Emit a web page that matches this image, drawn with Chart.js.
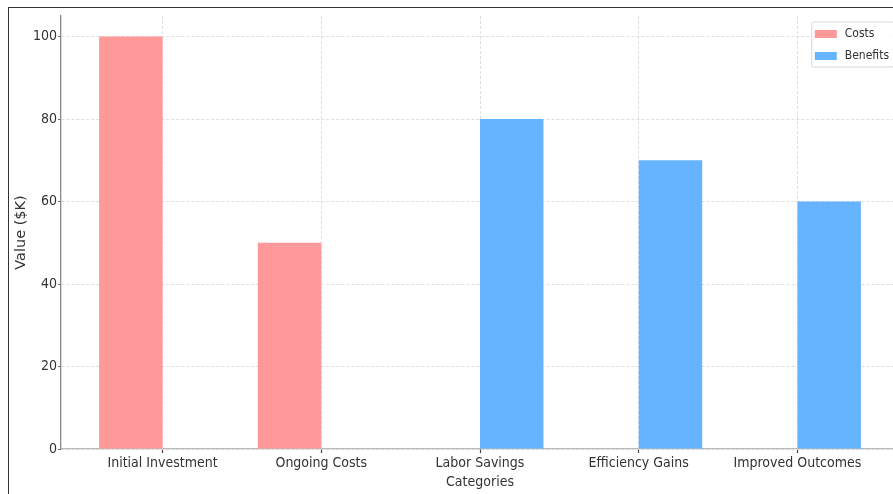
<!DOCTYPE html>
<html>
<head>
<meta charset="utf-8">
<script src="https://cdn.jsdelivr.net/npm/chart.js@4/dist/chart.umd.min.js"></script>
<style>
  html, body { margin: 0; padding: 0; background: #fff; overflow: hidden; }
  #wrap { position: relative; width: 893px; height: 494px; overflow: hidden; }
  #box { position: absolute; left: 0; top: 0; width: 910px; height: 494px; }
  #frame { position: absolute; left: 8px; top: 7px; width: 900px; height: 500px;
           border-left: 1.5px solid #333; border-top: 1.5px solid #333; pointer-events: none; }
</style>
</head>
<body>
<div id="wrap">
  <div id="box"><canvas id="c"></canvas></div>
  <div id="frame"></div>
</div>
<script>
// Cost / benefit breakdown, values in $K
const categories = ['Initial Investment', 'Ongoing Costs', 'Labor Savings', 'Efficiency Gains', 'Improved Outcomes'];
const costs = [100, 50, 0, 0, 0];
const benefits = [0, 0, 80, 70, 60];
const yTicks = [0, 20, 40, 60, 80, 100];

Chart.defaults.font.family = '"DejaVu Sans Condensed", "DejaVu Sans", sans-serif';
Chart.defaults.color = '#333';

// Boxed legend drawn in the upper right corner of the plot
const boxLegend = {
  id: 'boxLegend',
  afterDatasetsDraw(chart) {
    const ctx = chart.ctx, area = chart.chartArea;
    const sets = chart.data.datasets;
    ctx.save();
    ctx.font = '12px "DejaVu Sans Condensed", "DejaVu Sans", sans-serif';
    const tw = Math.max(...sets.map(d => ctx.measureText(d.label).width));
    const w = 3 + 22 + 8 + tw + 5, h = 45;
    const x = area.right - 5 - w, y = area.top + 6;
    ctx.beginPath();
    ctx.roundRect(x, y, w, h, 2);
    ctx.fillStyle = 'rgba(255,255,255,0.85)';
    ctx.fill();
    ctx.strokeStyle = '#d6d6d6';
    ctx.lineWidth = 1;
    ctx.stroke();
    sets.forEach((d, i) => {
      const cy = y + 12 + i * 22;
      ctx.fillStyle = d.backgroundColor;
      ctx.fillRect(x + 3, cy - 4, 22, 8);
      ctx.fillStyle = '#333';
      ctx.textBaseline = 'middle';
      ctx.textAlign = 'left';
      ctx.fillText(d.label, x + 33, cy);
    });
    ctx.restore();
  }
};

const toPoints = vals => vals.map((v, i) => ({ x: i, y: v }));

new Chart(document.getElementById('c'), {
  type: 'bar',
  data: {
    datasets: [
      { label: 'Costs', data: toPoints(costs), backgroundColor: '#FF9999',
        barPercentage: 1, categoryPercentage: 0.8 },
      { label: 'Benefits', data: toPoints(benefits), backgroundColor: '#66B3FF',
        barPercentage: 1, categoryPercentage: 0.8 }
    ]
  },
  options: {
    responsive: true,
    maintainAspectRatio: false,
    animation: false,
    layout: { padding: { left: 0, top: 16, right: 11, bottom: 0 } },
    plugins: { legend: { display: false }, tooltip: { enabled: false } },
    scales: {
      x: {
        type: 'linear',
        offset: false,
        min: -0.64,
        max: 4.64,
        afterBuildTicks: s => { s.ticks = categories.map((_, i) => ({ value: i })); },
        afterFit: s => { s.height = 45; },
        ticks: {
          autoSkip: false, maxRotation: 0, padding: 2,
          font: { size: 14 }, color: '#333',
          callback: v => categories[v]
        },
        grid: { offset: false, color: '#dedede', lineWidth: 1, tickLength: 4, tickColor: '#444', tickWidth: 1.2 },
        border: { display: true, color: '#bbb', width: 1.3, dash: [3, 2] },
        title: { display: true, text: 'Categories', font: { size: 14 }, color: '#333',
                 padding: { top: 0, bottom: 3.6 } }
      },
      y: {
        min: 0,
        max: 105,
        afterBuildTicks: s => { s.ticks = yTicks.map(v => ({ value: v })); },
        afterFit: s => { s.width = 61; },
        ticks: { padding: 1, font: { size: 14 }, color: '#333' },
        grid: { color: '#dedede', lineWidth: 1, tickLength: 3, tickColor: '#666', tickWidth: 1.2 },
        border: { display: true, color: '#888', width: 1.3, dash: [3, 2] },
        title: { display: true, text: 'Value ($K)', color: '#333',
                 font: { family: '"DejaVu Sans", sans-serif', size: 14.5 },
                 padding: { top: 13, bottom: 0 } }
      }
    }
  },
  plugins: [boxLegend]
});
</script>
</body>
</html>
